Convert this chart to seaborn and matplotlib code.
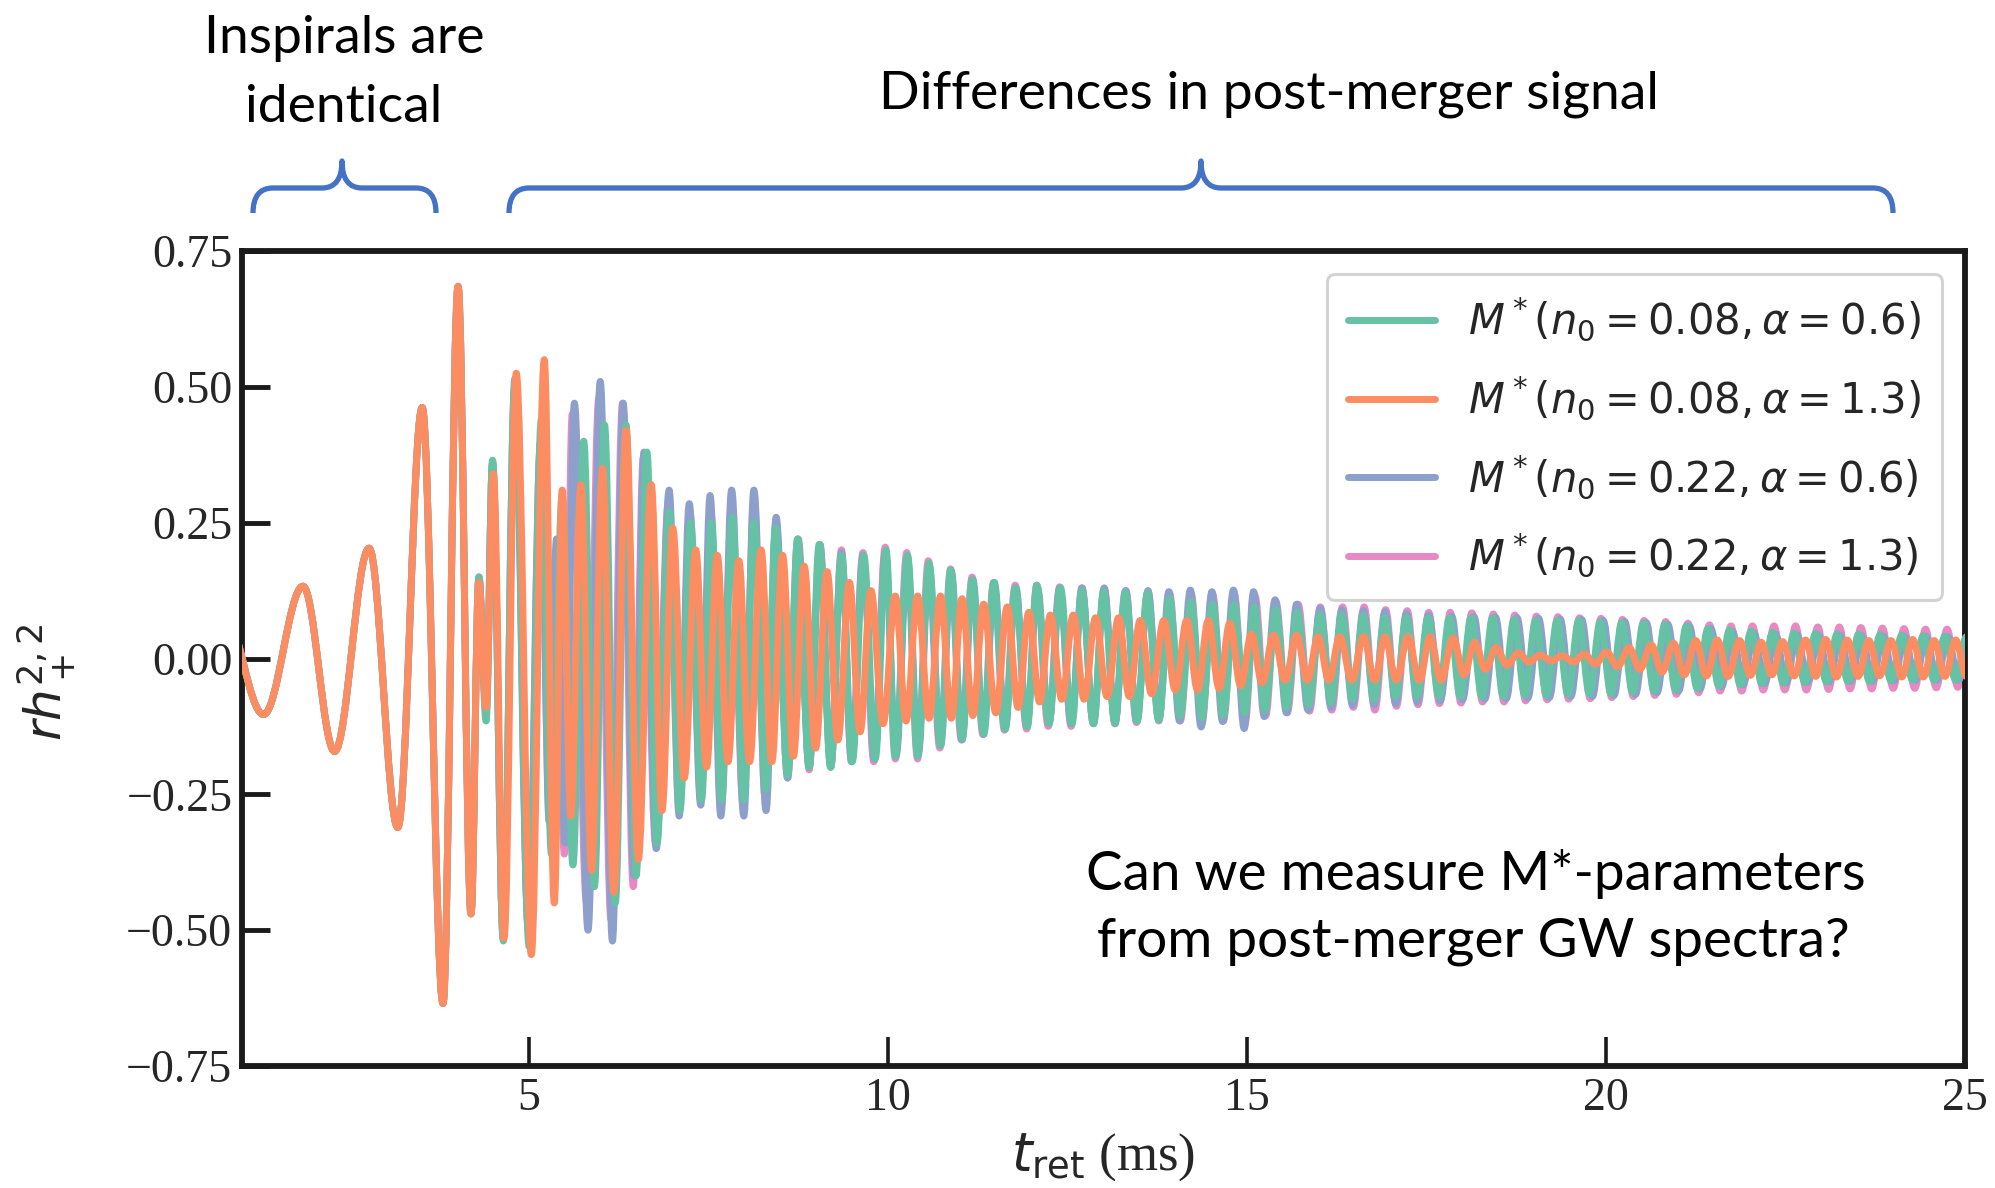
import numpy as np
import matplotlib
matplotlib.use("Agg")
import matplotlib.pyplot as plt
import seaborn as sns
from matplotlib.path import Path
from matplotlib.patches import PathPatch
from matplotlib.lines import Line2D

# ---------------------------------------------------------------------------
# Waveform extrema (t_ret in ms, r h_+^{2,2}); successive maxima/minima.
# The inspiral phase is shared by all four models.
# ---------------------------------------------------------------------------
inspiral = [(0.73, 0.090), (1.30, -0.103), (1.85, 0.133), (2.29, -0.171),
            (2.77, 0.203), (3.17, -0.311), (3.51, 0.462), (3.80, -0.635),
            (4.01, 0.685), (4.19, -0.470)]

post_n008_a06 = [
    (4.30, 0.15), (4.40, -0.115), (4.49, 0.365), (4.64, -0.52), (4.80, 0.515), (5.00, -0.53),
    (5.17, 0.44), (5.31, -0.36), (5.46, 0.30), (5.61, -0.38), (5.76, 0.40), (5.91, -0.42),
    (6.05, 0.43), (6.20, -0.45), (6.35, 0.43), (6.49, -0.40), (6.64, 0.38), (6.78, -0.34),
    (6.95, 0.27), (7.10, -0.28), (7.25, 0.25), (7.40, -0.26), (7.54, 0.25), (7.68, -0.26),
    (7.83, 0.26), (7.99, -0.26), (8.13, 0.25), (8.30, -0.24), (8.43, 0.24), (8.60, -0.215),
    (8.74, 0.22), (8.90, -0.20), (9.04, 0.21), (9.20, -0.20), (9.35, 0.19), (9.50, -0.19),
    (9.66, 0.19), (9.82, -0.185), (9.97, 0.20), (10.10, -0.18), (10.27, 0.19), (10.41, -0.18),
    (10.57, 0.175), (10.73, -0.16), (10.87, 0.163), (11.03, -0.147), (11.17, 0.145), (11.33, -0.138),
    (11.47, 0.14), (11.63, -0.13), (11.77, 0.13), (11.94, -0.125), (12.07, 0.135), (12.24, -0.12),
    (12.40, 0.13), (12.56, -0.12), (12.70, 0.125), (12.86, -0.12), (13.00, 0.123), (13.16, -0.118),
    (13.30, 0.122), (13.47, -0.115), (13.61, 0.12), (13.77, -0.113), (13.92, 0.11), (14.07, -0.105),
    (14.22, 0.105), (14.37, -0.11), (14.52, 0.10), (14.67, -0.105), (14.82, 0.10), (14.97, -0.10),
    (15.10, 0.095), (15.25, -0.095), (15.40, 0.09), (15.55, -0.09), (15.70, 0.085), (15.86, -0.085),
    (16.02, 0.08), (16.17, -0.08), (16.32, 0.08), (16.47, -0.075), (16.62, 0.078), (16.77, -0.075),
    (16.92, 0.075), (17.07, -0.07), (17.22, 0.075), (17.37, -0.07), (17.52, 0.075), (17.67, -0.07),
    (17.82, 0.075), (17.97, -0.07), (18.12, 0.075), (18.27, -0.07), (18.42, 0.075), (18.57, -0.07),
    (18.72, 0.072), (18.87, -0.068), (19.02, 0.07), (19.17, -0.068), (19.32, 0.07), (19.47, -0.066),
    (19.62, 0.07), (19.77, -0.065), (19.92, 0.068), (20.07, -0.065), (20.22, 0.066), (20.37, -0.062),
    (20.52, 0.065), (20.67, -0.06), (20.82, 0.063), (20.97, -0.058), (21.12, 0.06), (21.27, -0.055),
    (21.42, 0.055), (21.57, -0.05), (21.72, 0.052), (21.87, -0.048), (22.02, 0.05), (22.17, -0.046),
    (22.32, 0.048), (22.47, -0.045), (22.62, 0.047), (22.77, -0.044), (22.92, 0.046), (23.07, -0.043),
    (23.22, 0.045), (23.37, -0.042), (23.52, 0.045), (23.67, -0.042), (23.82, 0.044), (23.97, -0.041),
    (24.12, 0.043), (24.27, -0.04), (24.42, 0.042), (24.57, -0.04), (24.72, 0.041), (24.87, -0.04),
    (25.02, 0.04), (25.17, -0.04)]

post_n008_a13 = [
    (4.30, 0.14), (4.40, -0.09), (4.50, 0.34), (4.65, -0.515), (4.82, 0.525), (5.03, -0.545),
    (5.21, 0.55), (5.35, -0.45), (5.46, 0.31), (5.58, -0.29), (5.72, 0.32), (5.87, -0.39),
    (6.02, 0.35), (6.18, -0.43), (6.35, 0.42), (6.52, -0.37), (6.70, 0.32), (6.85, -0.28),
    (7.00, 0.24), (7.16, -0.22), (7.32, 0.20), (7.47, -0.20), (7.62, 0.19), (7.77, -0.19),
    (7.92, 0.18), (8.07, -0.19), (8.23, 0.20), (8.38, -0.19), (8.53, 0.19), (8.68, -0.18),
    (8.83, 0.17), (8.99, -0.165), (9.15, 0.16), (9.30, -0.15), (9.46, 0.14), (9.61, -0.135),
    (9.76, 0.125), (9.93, -0.12), (10.10, 0.115), (10.25, -0.115), (10.41, 0.115), (10.57, -0.11),
    (10.73, 0.115), (10.88, -0.11), (11.03, 0.11), (11.18, -0.105), (11.33, 0.10), (11.50, -0.10),
    (11.66, 0.095), (11.81, -0.09), (11.96, 0.085), (12.11, -0.08), (12.26, 0.08), (12.42, -0.075),
    (12.58, 0.08), (12.73, -0.075), (12.89, 0.075), (13.05, -0.07), (13.21, 0.075), (13.36, -0.07),
    (13.51, 0.07), (13.67, -0.065), (13.84, 0.07), (14.00, -0.058), (14.16, 0.07), (14.31, -0.058),
    (14.46, 0.07), (14.61, -0.055), (14.76, 0.065), (14.91, -0.05), (15.06, 0.045), (15.21, -0.045),
    (15.37, 0.043), (15.53, -0.04), (15.69, 0.043), (15.84, -0.04), (15.99, 0.04), (16.14, -0.04),
    (16.29, 0.04), (16.46, -0.04), (16.62, 0.04), (16.78, -0.04), (16.92, 0.04), (17.08, -0.04),
    (17.24, 0.04), (17.40, -0.04), (17.55, 0.04), (17.70, -0.04), (17.87, 0.038), (18.02, -0.03),
    (18.17, 0.03), (18.32, -0.02), (18.47, 0.02), (18.62, -0.012), (18.78, 0.01), (18.93, -0.006),
    (19.08, 0.006), (19.24, -0.004), (19.39, 0.005), (19.55, -0.006), (19.70, 0.008), (19.85, -0.01),
    (20.01, 0.012), (20.16, -0.015), (20.32, 0.02), (20.47, -0.02), (20.63, 0.025), (20.78, -0.025),
    (20.94, 0.028), (21.09, -0.03), (21.25, 0.033), (21.40, -0.032), (21.55, 0.034), (21.70, -0.033),
    (21.86, 0.033), (22.01, -0.031), (22.16, 0.03), (22.31, -0.03), (22.46, 0.031), (22.62, -0.032),
    (22.78, 0.034), (22.92, -0.033), (23.06, 0.035), (23.21, -0.034), (23.36, 0.034), (23.51, -0.033),
    (23.66, 0.033), (23.81, -0.032), (23.97, 0.033), (24.12, -0.034), (24.27, 0.035), (24.42, -0.034),
    (24.57, 0.033), (24.72, -0.033), (24.87, 0.034), (25.02, -0.033), (25.17, 0.033)]

post_n022_a06 = [
    (4.30, 0.15), (4.40, -0.10), (4.49, 0.36), (4.64, -0.515), (4.80, 0.50), (4.99, -0.50),
    (5.16, 0.40), (5.28, -0.30), (5.38, 0.22), (5.50, -0.34), (5.63, 0.47), (5.82, -0.50),
    (5.99, 0.51), (6.16, -0.52), (6.31, 0.47), (6.46, -0.40), (6.60, 0.38), (6.77, -0.35),
    (6.95, 0.31), (7.09, -0.29), (7.23, 0.285), (7.39, -0.27), (7.52, 0.30), (7.67, -0.29),
    (7.82, 0.31), (7.99, -0.29), (8.13, 0.31), (8.30, -0.28), (8.44, 0.26), (8.60, -0.22),
    (8.74, 0.22), (8.90, -0.20), (9.05, 0.21), (9.20, -0.20), (9.35, 0.195), (9.49, -0.19),
    (9.65, 0.19), (9.81, -0.185), (9.96, 0.195), (10.11, -0.18), (10.27, 0.185), (10.42, -0.175),
    (10.57, 0.17), (10.73, -0.16), (10.88, 0.16), (11.03, -0.15), (11.18, 0.145), (11.33, -0.14),
    (11.48, 0.14), (11.63, -0.13), (11.78, 0.13), (11.93, -0.125), (12.08, 0.13), (12.24, -0.12),
    (12.39, 0.13), (12.55, -0.12), (12.70, 0.13), (12.86, -0.12), (13.01, 0.13), (13.16, -0.12),
    (13.31, 0.125), (13.46, -0.115), (13.62, 0.125), (13.77, -0.113), (13.91, 0.123), (14.06, -0.115),
    (14.21, 0.126), (14.36, -0.126), (14.51, 0.123), (14.66, -0.116), (14.81, 0.126), (14.96, -0.129),
    (15.09, 0.123), (15.24, -0.107), (15.39, 0.108), (15.55, -0.10), (15.69, 0.10), (15.85, -0.095),
    (16.02, 0.092), (16.17, -0.09), (16.32, 0.09), (16.47, -0.086), (16.62, 0.088), (16.77, -0.085),
    (16.92, 0.086), (17.07, -0.083), (17.22, 0.083), (17.37, -0.08), (17.53, 0.08), (17.69, -0.078),
    (17.85, 0.078), (18.00, -0.076), (18.16, 0.077), (18.31, -0.075), (18.46, 0.076), (18.61, -0.074),
    (18.76, 0.075), (18.91, -0.073), (19.06, 0.074), (19.21, -0.072), (19.36, 0.073), (19.51, -0.07),
    (19.66, 0.072), (19.81, -0.07), (19.96, 0.07), (20.11, -0.068), (20.26, 0.068), (20.41, -0.066),
    (20.56, 0.066), (20.71, -0.063), (20.86, 0.063), (21.01, -0.06), (21.16, 0.06), (21.31, -0.056),
    (21.46, 0.055), (21.61, -0.052), (21.76, 0.05), (21.91, -0.048), (22.06, 0.047), (22.21, -0.046),
    (22.36, 0.045), (22.51, -0.045), (22.66, 0.044), (22.81, -0.044), (22.96, 0.043), (23.11, -0.043),
    (23.26, 0.042), (23.41, -0.042), (23.56, 0.042), (23.71, -0.042), (23.86, 0.041), (24.01, -0.041),
    (24.16, 0.04), (24.31, -0.04), (24.46, 0.04), (24.61, -0.04), (24.76, 0.04), (24.91, -0.04),
    (25.06, 0.04), (25.21, -0.04)]

post_n022_a13 = [
    (4.30, 0.15), (4.40, -0.10), (4.49, 0.36), (4.64, -0.515), (4.80, 0.50), (4.99, -0.50),
    (5.16, 0.40), (5.28, -0.30), (5.37, 0.20), (5.49, -0.36), (5.60, 0.45), (5.80, -0.45),
    (5.97, 0.48), (6.14, -0.48), (6.30, 0.47), (6.45, -0.42), (6.59, 0.37), (6.76, -0.34),
    (6.94, 0.29), (7.09, -0.28), (7.24, 0.27), (7.39, -0.26), (7.53, 0.27), (7.68, -0.27),
    (7.82, 0.28), (7.98, -0.27), (8.13, 0.28), (8.29, -0.26), (8.44, 0.25), (8.60, -0.22),
    (8.75, 0.22), (8.90, -0.205), (9.05, 0.21), (9.20, -0.20), (9.35, 0.20), (9.49, -0.19),
    (9.65, 0.195), (9.80, -0.19), (9.96, 0.205), (10.10, -0.185), (10.26, 0.195), (10.41, -0.185),
    (10.56, 0.18), (10.72, -0.165), (10.87, 0.165), (11.02, -0.15), (11.17, 0.15), (11.32, -0.14),
    (11.47, 0.14), (11.62, -0.132), (11.77, 0.135), (11.93, -0.13), (12.07, 0.135), (12.23, -0.125),
    (12.39, 0.132), (12.55, -0.125), (12.70, 0.13), (12.86, -0.12), (13.01, 0.128), (13.16, -0.12),
    (13.31, 0.125), (13.46, -0.118), (13.62, 0.122), (13.77, -0.115), (13.92, 0.12), (14.07, -0.115),
    (14.22, 0.12), (14.37, -0.12), (14.52, 0.118), (14.67, -0.115), (14.82, 0.12), (14.97, -0.12),
    (15.11, 0.115), (15.26, -0.105), (15.40, 0.105), (15.56, -0.10), (15.71, 0.10), (15.87, -0.097),
    (16.02, 0.095), (16.18, -0.095), (16.33, 0.095), (16.48, -0.09), (16.63, 0.095), (16.78, -0.095),
    (16.93, 0.09), (17.08, -0.088), (17.23, 0.088), (17.38, -0.085), (17.53, 0.085), (17.68, -0.083),
    (17.83, 0.085), (17.98, -0.082), (18.13, 0.084), (18.28, -0.08), (18.43, 0.082), (18.58, -0.08),
    (18.73, 0.08), (18.88, -0.078), (19.03, 0.078), (19.18, -0.076), (19.33, 0.077), (19.48, -0.075),
    (19.63, 0.075), (19.78, -0.074), (19.93, 0.074), (20.08, -0.072), (20.23, 0.072), (20.38, -0.07),
    (20.53, 0.07), (20.68, -0.068), (20.83, 0.068), (20.98, -0.066), (21.14, 0.065), (21.29, -0.063),
    (21.44, 0.062), (21.59, -0.06), (21.74, 0.06), (21.89, -0.06), (22.04, 0.06), (22.19, -0.058),
    (22.34, 0.06), (22.49, -0.058), (22.64, 0.06), (22.79, -0.058), (22.95, 0.058), (23.10, -0.057),
    (23.25, 0.058), (23.40, -0.056), (23.55, 0.057), (23.70, -0.056), (23.85, 0.056), (24.00, -0.055),
    (24.15, 0.055), (24.30, -0.055), (24.45, 0.054), (24.60, -0.054), (24.75, 0.054), (24.90, -0.053),
    (25.05, 0.053), (25.20, -0.053)]

labels = [r"$M^*(n_0 = 0.08, \alpha = 0.6)$",
          r"$M^*(n_0 = 0.08, \alpha = 1.3)$",
          r"$M^*(n_0 = 0.22, \alpha = 0.6)$",
          r"$M^*(n_0 = 0.22, \alpha = 1.3)$"]
series = [post_n008_a06, post_n008_a13, post_n022_a06, post_n022_a13]
draw_order = [3, 2, 0, 1]          # orange model ends up on top

yticks = [-0.75, -0.50, -0.25, 0.00, 0.25, 0.50, 0.75]
xticks = [5, 10, 15, 20, 25]

# ---------------------------------------------------------------------------
sns.set_style("ticks")
colors = sns.color_palette("Set2", 4)
plt.rcParams["font.family"] = ["Liberation Serif", "DejaVu Serif"]
plt.rcParams["mathtext.fontset"] = "dejavusans"
plt.rcParams["axes.unicode_minus"] = True

W, H = 1995, 1188
fig = plt.figure(figsize=(W / 100, H / 100), dpi=100)
ax_l, ax_r, ax_t, ax_b = 242, 1965, 251, 1066
ax = fig.add_axes([ax_l / W, 1 - ax_b / H, (ax_r - ax_l) / W, (ax_b - ax_t) / H])

KAPPA = 1 - 2 / np.pi  # handle offset giving a half-cosine between extrema


def waveform_path(points):
    """Smooth curve through successive extrema, horizontal tangent at each."""
    verts = [points[0]]
    codes = [Path.MOVETO]
    for (t0, h0), (t1, h1) in zip(points[:-1], points[1:]):
        d = t1 - t0
        verts += [(t0 + KAPPA * d, h0), (t1 - KAPPA * d, h1), (t1, h1)]
        codes += [Path.CURVE4] * 3
    return Path(verts, codes)


LW = 5.0
for i in draw_order:
    pts = inspiral + series[i]
    patch = PathPatch(waveform_path(pts), facecolor="none", edgecolor=colors[i],
                      lw=LW, joinstyle="round", capstyle="round", zorder=2 + draw_order.index(i))
    ax.add_patch(patch)

ax.set_xlim(1.0, 25.0)
ax.set_ylim(-0.75, 0.75)
ax.set_xticks(xticks)
ax.set_yticks(yticks)
ax.set_xticklabels([str(v) for v in xticks])
ax.set_yticklabels([f"{v:.2f}".replace("-", "\u2212") for v in yticks])

for s in ax.spines.values():
    s.set_linewidth(4.2)
    s.set_color("#1a1a1a")
ax.tick_params(axis="x", direction="in", length=21, width=2.6, labelsize=33, pad=8,
               color="#1a1a1a")
ax.tick_params(axis="y", direction="in", length=20, width=3.5, labelsize=33, pad=7,
               color="#1a1a1a")

ax.set_xlabel(r"$t_{\rm ret}$ (ms)", fontsize=38)
ax.xaxis.set_label_coords(0.5, -0.08)
ax.set_ylabel(r"$rh_+^{2,2}$", fontsize=36)
ax.yaxis.set_label_coords(-0.095, 0.47)

handles = [Line2D([], [], color=colors[i], lw=LW) for i in range(4)]
leg = ax.legend(handles, labels, loc="upper right", fontsize=30, frameon=True,
                fancybox=True, framealpha=0.85, edgecolor="#cccccc",
                borderaxespad=0.55, labelspacing=0.72, handlelength=2.1,
                handletextpad=0.8, borderpad=0.5)
leg.get_frame().set_linewidth(2.2)

# ---------------------------------------------------------------------------
# Slide annotations: headings, braces and the question
SLIDE_FONT = ["Lato", "DejaVu Sans"]


def fx(px):
    return px / W


def fy(py):
    return 1 - py / H


def slide_text(x, y, s, size=38.5):
    fig.text(fx(x), fy(y), s, ha="center", va="baseline", fontsize=size,
             family=SLIDE_FONT, color="black")


slide_text(344, 53, "Inspirals are")
slide_text(344, 122, "identical")
slide_text(1269, 108, "Differences in post-merger signal")
slide_text(1476, 890, "Can we measure M*-parameters", size=39.5)
slide_text(1473, 956, "from post-merger GW spectra?", size=39.5)


def brace(x0, x1, xc, y_end=213, y_bar=188, y_tip=161, r=20):
    pts = [(x0, y_end), (x0, y_bar), (x0 + r, y_bar),
           (xc - r, y_bar), (xc, y_bar), (xc, y_tip),
           (xc, y_bar), (xc + r, y_bar),
           (x1 - r, y_bar), (x1, y_bar), (x1, y_end)]
    codes = [Path.MOVETO, Path.CURVE3, Path.CURVE3,
             Path.LINETO, Path.CURVE3, Path.CURVE3,
             Path.CURVE3, Path.CURVE3,
             Path.LINETO, Path.CURVE3, Path.CURVE3]
    verts = [(fx(x), fy(y)) for x, y in pts]
    fig.add_artist(PathPatch(Path(verts, codes), facecolor="none", edgecolor="#4472C4",
                             lw=3.8, transform=fig.transFigure, capstyle="butt",
                             joinstyle="round"))


brace(253, 436, 342)
brace(509, 1893, 1201)

fig.savefig("out.png", dpi=100)
